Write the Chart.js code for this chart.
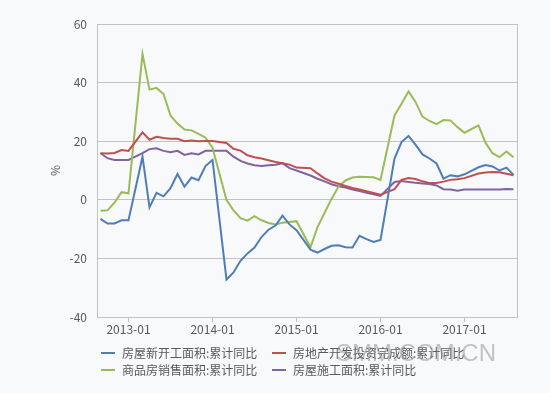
<!DOCTYPE html>
<html>
<head>
<meta charset="utf-8">
<script src="https://cdn.jsdelivr.net/npm/chart.js@4.4.0/dist/chart.umd.min.js"></script>
<style>
  html, body { margin: 0; padding: 0; background: #f8f9fb; }
  #wrap { position: relative; width: 550px; height: 393px; }
  #legend {
    position: absolute; left: 101px; top: 344px;
    display: grid; grid-template-columns: 171px auto;
    font: 12px "Noto Sans CJK SC", sans-serif; color: #595959;
  }
  .item { display: flex; align-items: center; height: 17px; white-space: nowrap; }
  .swatch { width: 14px; height: 2px; margin-right: 7px; }
  #wm {
    position: absolute; left: 336px; top: 339px;
    font: 24px "Liberation Sans", sans-serif; color: rgba(140, 140, 140, 0.5);
  }
</style>
</head>
<body>
<div id="wrap">
  <canvas id="chart" width="550" height="393"></canvas>
  <div id="legend"></div>
  <div id="wm">SMM.COM.CN</div>
</div>
<script>
// 月份（1月数据缺失 -> null）
const months = [
  '2012-09', '2012-10', '2012-11', '2012-12',
  '2013-01', '2013-02', '2013-03', '2013-04', '2013-05', '2013-06', '2013-07', '2013-08', '2013-09', '2013-10', '2013-11', '2013-12',
  '2014-01', '2014-02', '2014-03', '2014-04', '2014-05', '2014-06', '2014-07', '2014-08', '2014-09', '2014-10', '2014-11', '2014-12',
  '2015-01', '2015-02', '2015-03', '2015-04', '2015-05', '2015-06', '2015-07', '2015-08', '2015-09', '2015-10', '2015-11', '2015-12',
  '2016-01', '2016-02', '2016-03', '2016-04', '2016-05', '2016-06', '2016-07', '2016-08', '2016-09', '2016-10', '2016-11', '2016-12',
  '2017-01', '2017-02', '2017-03', '2017-04', '2017-05', '2017-06', '2017-07', '2017-08'
];

const yTicks = [-40, -20, 0, 20, 40, 60];

// 房屋新开工面积:累计同比
const newStarts = [
  -6.5, -8.1, -8.1, -7.0,
  -7.0, null, 14.7, -2.6, 2.4, 1.2, 4.0, 8.8, 4.5, 7.6, 6.7, 11.5,
  13.6, null, -27.2, -24.8, -20.8, -18.3, -16.3, -12.7, -10.2, -8.8, -5.4, -8.4,
  -10.4, null, -17.0, -18.0, -16.8, -15.7, -15.5, -16.2, -16.3, -12.3, -13.4, -14.4,
  -13.7, null, 14.1, 19.7, 21.8, 18.8, 15.5, 14.1, 12.4, 7.2, 8.4, 8.0,
  8.7, null, 11.1, 11.9, 11.4, 10.0, 11.0, 8.5
];

// 房地产开发投资完成额:累计同比
const investment = [
  15.9, 15.8, 16.0, 17.0,
  16.7, null, 23.0, 20.5, 21.5, 21.1, 20.8, 20.8, 20.0, 20.2, 20.0, 20.1,
  20.1, null, 19.4, 17.4, 16.8, 15.2, 14.5, 14.1, 13.5, 12.9, 12.5, 12.0,
  11.0, null, 10.8, 9.0, 7.3, 6.2, 5.5, 4.7, 4.0, 3.5, 2.9, 2.3,
  1.7, null, 3.6, 6.8, 7.4, 7.1, 6.3, 5.7, 5.7, 6.2, 6.8, 7.0,
  7.4, null, 9.0, 9.3, 9.5, 9.4, 8.9, 8.4
];

// 商品房销售面积:累计同比
const sales = [
  -3.7, -3.6, -1.0, 2.6,
  2.2, null, 49.8, 37.6, 38.2, 36.1, 28.8, 26.0, 24.0, 23.7, 22.5, 21.2,
  17.8, null, -0.1, -3.6, -6.3, -7.1, -5.6, -7.0, -7.9, -8.4, -7.8, -7.6,
  -7.3, null, -16.2, -9.3, -4.5, 0.3, 4.5, 6.6, 7.6, 7.9, 7.8, 7.7,
  6.8, null, 28.8, 32.8, 37.0, 33.4, 28.4, 26.9, 25.8, 27.2, 27.1, 24.8,
  22.9, null, 25.4, 19.5, 15.9, 14.6, 16.5, 14.5
];

// 房屋施工面积:累计同比
const construction = [
  15.9, 14.2, 13.6, 13.6,
  13.6, null, 15.9, 17.3, 17.6, 16.7, 16.2, 16.7, 15.3, 15.9, 15.5, 16.7,
  16.7, null, 16.7, 14.7, 13.3, 12.4, 11.8, 11.5, 11.8, 12.0, 12.5, 10.8,
  10.0, null, 8.3, 7.2, 6.3, 5.3, 4.6, 4.2, 3.5, 3.0, 2.4, 1.9,
  1.3, null, 6.1, 6.4, 6.1, 5.8, 5.6, 5.4, 4.9, 3.6, 3.5, 3.1,
  3.5, null, 3.5, 3.5, 3.5, 3.5, 3.7, 3.6
];

const seriesNames = ['房屋新开工面积:累计同比', '房地产开发投资完成额:累计同比', '商品房销售面积:累计同比', '房屋施工面积:累计同比'];
const seriesColors = ['#4f7db8', '#c0504d', '#9bbb59', '#8064a2'];
const seriesData = [newStarts, investment, sales, construction];

const gridColor = '#c3c3c3';
const textColor = '#595959';
const font = { family: '"Noto Sans CJK SC", sans-serif', size: 12 };

// 右侧边框
const frame = {
  id: 'frame',
  afterDraw(chart) {
    const { ctx, chartArea: a } = chart;
    ctx.save();
    ctx.strokeStyle = gridColor;
    ctx.lineWidth = 1;
    ctx.beginPath();
    ctx.moveTo(Math.round(a.right) + 0.5, a.top);
    ctx.lineTo(Math.round(a.right) + 0.5, a.bottom);
    ctx.stroke();
    ctx.restore();
  }
};

const chart = new Chart(document.getElementById('chart'), {
  type: 'line',
  data: {
    labels: months,
    datasets: seriesNames.map((name, i) => ({
      label: name,
      data: seriesData[i],
      borderColor: seriesColors[i],
      backgroundColor: seriesColors[i],
      borderWidth: 2,
      pointRadius: 0,
      tension: 0,
      spanGaps: true,
      fill: false
    }))
  },
  options: {
    responsive: false,
    animation: false,
    layout: { padding: { left: 0, top: 24, right: 33, bottom: 0 } },
    plugins: { legend: { display: false }, tooltip: { enabled: false } },
    scales: {
      x: {
        offset: true,
        afterFit: s => { s.height = 76; },
        grid: { drawOnChartArea: false, drawTicks: true, tickLength: 5, color: gridColor },
        border: { display: true, color: gridColor },
        ticks: {
          autoSkip: false, maxRotation: 0, padding: 0, color: textColor, font,
          callback: (v, i) => months[i].endsWith('-01') ? months[i] : null
        }
      },
      y: {
        min: yTicks[0],
        max: yTicks[yTicks.length - 1],
        afterFit: s => { s.width = 97; },
        afterBuildTicks: s => { s.ticks = yTicks.map(v => ({ value: v })); },
        grid: { color: gridColor, drawTicks: false },
        border: { display: true, color: gridColor },
        ticks: { padding: 10, color: textColor, font },
        title: { display: true, text: '%', color: textColor, font, padding: { top: 48, bottom: 0 } }
      }
    }
  },
  plugins: [frame]
});

// 图例
const legend = document.getElementById('legend');
chart.data.datasets.forEach(ds => {
  const item = document.createElement('div');
  item.className = 'item';
  const sw = document.createElement('span');
  sw.className = 'swatch';
  sw.style.background = ds.borderColor;
  const label = document.createElement('span');
  label.textContent = ds.label;
  item.appendChild(sw);
  item.appendChild(label);
  legend.appendChild(item);
});
</script>
</body>
</html>
